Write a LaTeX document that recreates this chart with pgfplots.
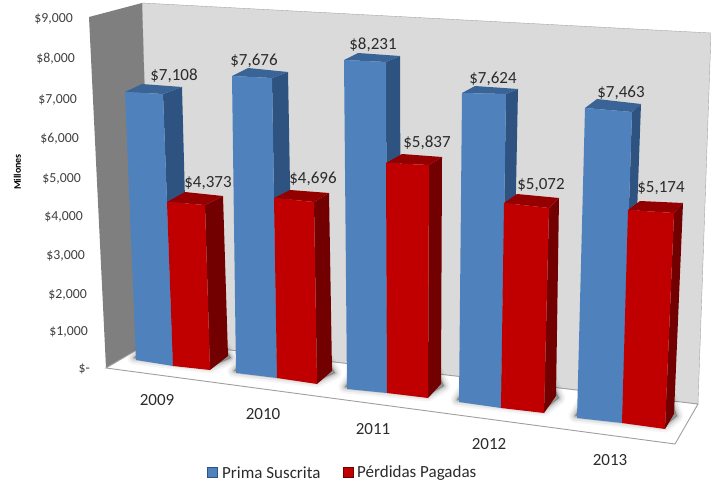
\documentclass[border=0pt]{standalone}
\usepackage{fontspec}
\setmainfont{Carlito}
\usepackage{pgfplots}
\pgfplotsset{compat=1.18}
\usepackage{pgfplotstable}

\definecolor{bluefront}{HTML}{4F81BD}
\definecolor{bluetop}{HTML}{3A6496}
\definecolor{blueside}{HTML}{2F5380}
\definecolor{redfront}{HTML}{C00000}
\definecolor{redtop}{HTML}{940000}
\definecolor{redside}{HTML}{730000}
\definecolor{backwall}{HTML}{DADADA}
\definecolor{sidewall}{HTML}{7F7F7F}
\definecolor{txt}{HTML}{2B2B2B}

% picture positions are pixels of the 711x481 image, y downwards
\pgfplotstableread{
x y l
174 75.5 {\$7,108}
254 60.5 {\$7,676}
373 44.5 {\$8,231}
493 78.5 {\$7,624}
621 92.5 {\$7,463}
208 183.5 {\$4,373}
313 178.5 {\$4,696}
427 142.5 {\$5,837}
541 185.5 {\$5,072}
661 188.5 {\$5,174}
}\valuelabels

\pgfplotstableread{
x y l
73 19 {\$9,000}
75 59 {\$8,000}
77 100 {\$7,000}
79 139 {\$6,000}
81 179 {\$5,000}
83 217 {\$4,000}
85 256 {\$3,000}
87 295 {\$2,000}
88 332 {\$1,000}
90 369 {\$-}
}\ticklabels

\pgfplotstableread{
x y l
157 400 2009
263 414 2010
373 429 2011
489 444 2012
610 460 2013
}\yearlabels

% prefix, front tl tr br bl, top back-right back-left, side bottom
\newcommand{\block}[8]{
  \addplot[fill=#1side, draw=none] coordinates {(#3) (#6) (#8) (#4)};
  \addplot[fill=#1top, draw=none] coordinates {(#2) (#3) (#6) (#7)};
  \addplot[fill=#1front, draw=none] coordinates {(#2) (#3) (#4) (#5)};
}
% soft shadow on the floor
\newcommand{\softshadow}[1]{
  \addplot[fill=black, draw=black, line width=13pt, line join=round, opacity=0.04] coordinates {#1 } -- cycle;
  \addplot[fill=black, draw=black, line width=9pt, line join=round, opacity=0.06] coordinates {#1 } -- cycle;
  \addplot[fill=black, draw=black, line width=5pt, line join=round, opacity=0.09] coordinates {#1 } -- cycle;
  \addplot[fill=black, draw=black, line width=2pt, line join=round, opacity=0.11] coordinates {#1 } -- cycle;
}

\begin{document}
\begin{tikzpicture}
\begin{axis}[
  scale only axis,
  width=711pt, height=481pt,
  xmin=0, xmax=711, ymin=0, ymax=481,
  y dir=reverse,
  hide axis,
  point meta=explicit symbolic,
  nodes near coords align={center},
  every node near coord/.append style={anchor=center, inner sep=0pt, text=txt},
]
% walls and floor
\addplot[fill=backwall, draw=gray!70, line width=0.4pt] coordinates {(142,3) (711,33) (698,404) (152,341)} -- cycle;
\addplot[fill=sidewall, draw=none] coordinates {(89,17) (142,3) (152,341) (106,368)};
\addplot[fill=white, draw=gray!75, line width=0.9pt] coordinates {(106,368) (152,341) (698,404) (675,444)} -- cycle;

\softshadow{(134,358) (210,367) (231,358) (225,348) (150,340)}
\softshadow{(234,371) (317,381) (335,373) (328,360) (250,352)}
\softshadow{(345,387) (428,395) (444,386) (437,372) (360,366)}
\softshadow{(457,400) (544,410) (559,398) (552,382) (472,376)}
\softshadow{(575,416) (665,426) (677,416) (670,396) (590,390)}

% 2009
\block{blue}{125,92}{163,94}{173,366}{136,360}{182,87}{142,84}{189,350}
\block{red}{167,202}{205,205}{210,370}{173,366}{223,196}{185,192}{228,356}
% 2010
\block{blue}{232,76}{272,78}{277,378}{236,373}{288,72}{248,68}{293,355}
\block{red}{274,198}{314,202}{317,384}{277,378}{329,193}{290,190}{332,371}
% 2011
\block{blue}{344,60}{386,62}{387,393}{347,389}{400,56}{358,53}{401,375}
\block{red}{386,163}{429,165}{428,398}{387,393}{442,157}{402,154}{441,384}
% 2012
\block{blue}{462,93}{506,94}{501,408}{459,402}{518,89}{475,86}{512,390}
\block{red}{504,203}{549,208}{544,413}{501,408}{559,198}{517,194}{556,396}
% 2013
\block{blue}{585,108}{632,112}{622,423}{577,418}{641,104}{597,99}{630,405}
\block{red}{628,210}{674,213}{665,429}{622,423}{683,203}{640,201}{674,414}

% texts
\addplot[draw=none, nodes near coords, nodes near coords style={font=\fontsize{17}{18}\selectfont}] table[x=x, y=y, meta=l] {\valuelabels};
\addplot[draw=none, nodes near coords, nodes near coords style={font=\fontsize{17}{18}\selectfont}] table[x=x, y=y, meta=l] {\yearlabels};
\addplot[draw=none, nodes near coords, nodes near coords style={anchor=east, font=\fontsize{13.8}{15}\selectfont, text=txt!90}] table[x=x, y=y, meta=l] {\ticklabels};

\node[rotate=90, font=\fontsize{10}{11}\selectfont\bfseries, text=black] at (axis cs:17.5,172) {Millones};

% legend
\addplot[fill=bluefront, draw=blueside, line width=0.6pt] coordinates {(207.5,467.5) (217.5,467.5) (217.5,477.5) (207.5,477.5)} -- cycle;
\addplot[fill=redfront, draw=redside, line width=0.6pt] coordinates {(343.5,467.5) (353.5,467.5) (353.5,477.5) (343.5,477.5)} -- cycle;
\node[anchor=west, inner sep=0pt, font=\fontsize{17}{18}\selectfont, text=txt] at (axis cs:222,473) {Prima Suscrita};
\node[anchor=west, inner sep=0pt, font=\fontsize{17}{18}\selectfont, text=txt] at (axis cs:357,473) {Pérdidas Pagadas};
\end{axis}
\pgfresetboundingbox
\path[use as bounding box] (current axis.south west) rectangle (current axis.north east);
\end{tikzpicture}
\end{document}
